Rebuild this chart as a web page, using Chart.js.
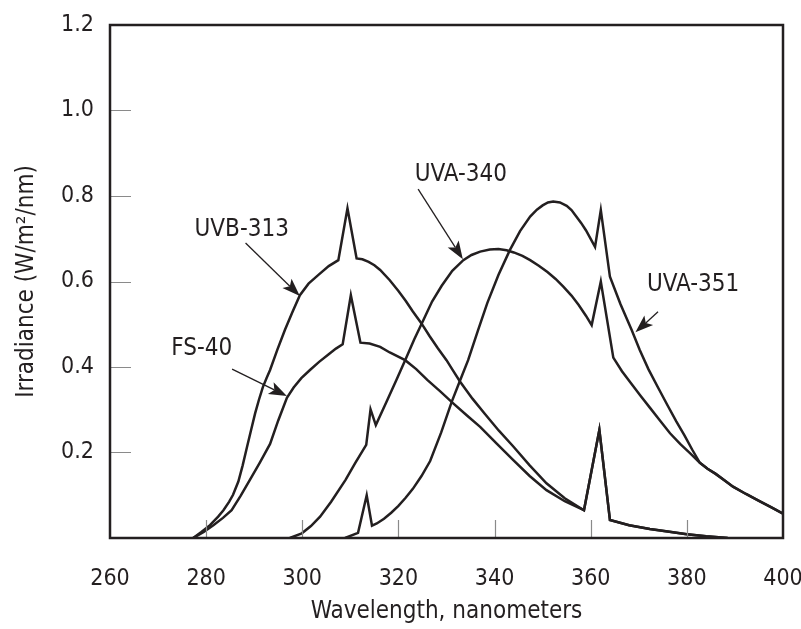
<!DOCTYPE html>
<html>
<head>
<meta charset="utf-8">
<script src="https://cdn.jsdelivr.net/npm/chart.js@4.4.1/dist/chart.umd.min.js"></script>
<style>
  html, body { margin: 0; padding: 0; background: #fff; }
  #wrap { width: 801px; height: 629px; position: relative; }
</style>
</head>
<body>
<div id="wrap"><canvas id="lampSpectra"></canvas></div>
<script>
// spectra: wavelength (nm) and irradiance (W/m2/nm)
const uvb313Nm  = [277.3, 279, 280.8, 282.5, 283.6, 284.8, 285.6, 286.7, 287.6, 288.5, 289.4, 290.2, 291, 291.8, 292.6, 293.3, 294.8, 296.4, 298, 299.5, 301.3, 303.3, 305.5, 307.5, 309.4, 311.3, 312.5, 313.8, 315, 316.2, 318.2, 320, 321.5, 323, 324.8, 326.5, 328.2, 330.0, 331.4, 332.8, 335.4, 338, 340.9, 343.9, 347.3, 350.8, 354.6, 358.6, 361.8, 364.0, 368, 372.3, 376, 380, 384, 388.5];
const uvb313Val = [0, 0.014, 0.030, 0.05, 0.065, 0.085, 0.101, 0.132, 0.17, 0.213, 0.255, 0.292, 0.324, 0.353, 0.375, 0.393, 0.44, 0.487, 0.530, 0.568, 0.595, 0.615, 0.636, 0.650, 0.771, 0.654, 0.652, 0.646, 0.638, 0.627, 0.603, 0.578, 0.555, 0.530, 0.502, 0.472, 0.444, 0.416, 0.391, 0.366, 0.326, 0.29, 0.251, 0.214, 0.170, 0.128, 0.093, 0.065, 0.253, 0.042, 0.03, 0.021, 0.015, 0.009, 0.004, 0];

const fs40Nm  = [277.3, 279.5, 281.5, 283.5, 285.3, 287.2, 289.1, 291.2, 293.3, 295, 296.8, 298.2, 299.8, 301.6, 303.5, 305.5, 307, 308.4, 310.1, 312.1, 314, 316.2, 318.2, 321.4, 323.7, 326, 328.7, 331.4, 334.2, 337.0, 340.5, 343.9, 347.3, 350.8, 354.6, 358.6, 361.8, 364.0, 368, 372.3, 376, 380, 384, 388.5];
const fs40Val = [0, 0.014, 0.030, 0.047, 0.065, 0.099, 0.136, 0.177, 0.22, 0.275, 0.328, 0.352, 0.374, 0.393, 0.412, 0.430, 0.443, 0.453, 0.568, 0.457, 0.455, 0.447, 0.434, 0.416, 0.395, 0.37, 0.343, 0.315, 0.287, 0.26, 0.22, 0.182, 0.145, 0.112, 0.086, 0.065, 0.253, 0.042, 0.03, 0.021, 0.015, 0.009, 0.004, 0];

const uva340Nm  = [297.4, 299.9, 301.8, 303.7, 306, 309, 311, 313.3, 314.2, 315.3, 317.5, 319.6, 321.4, 323.3, 325.2, 327, 329, 331.2, 333.5, 335.2, 337, 339, 340.8, 342.5, 344, 345.8, 347.4, 349.2, 351, 352.7, 354.3, 356, 357.5, 359, 360.2, 362.1, 364.7, 366.5, 368.5, 370.4, 372.3, 374.4, 376.5, 378.6, 380.7, 382.7, 384.3, 386, 387.8, 389.6, 392.3, 395, 397.5, 400];
const uva340Val = [0, 0.011, 0.028, 0.05, 0.085, 0.136, 0.175, 0.218, 0.301, 0.264, 0.318, 0.37, 0.416, 0.465, 0.51, 0.553, 0.59, 0.625, 0.65, 0.662, 0.670, 0.675, 0.676, 0.673, 0.668, 0.66, 0.650, 0.637, 0.622, 0.606, 0.588, 0.567, 0.545, 0.52, 0.498, 0.600, 0.422, 0.39, 0.36, 0.332, 0.305, 0.275, 0.245, 0.22, 0.198, 0.176, 0.162, 0.150, 0.135, 0.12, 0.103, 0.087, 0.072, 0.057];

const uva351Nm  = [308.9, 311.6, 313.4, 314.5, 315.5, 317, 318.5, 320, 321.5, 323, 324.8, 326.6, 328.9, 331.1, 332.8, 334.5, 336.5, 338.5, 340.8, 343.2, 345.3, 347.4, 348.8, 350, 351.1, 352.2, 353.6, 355, 356, 357, 358, 359, 360.9, 362.1, 364.0, 366.2, 368.5, 370.2, 372, 374, 376, 377.8, 379.5, 381.1, 382.7, 384.3, 386, 387.8, 389.6, 392.3, 395, 397.5, 400];
const uva351Val = [0, 0.012, 0.100, 0.029, 0.034, 0.045, 0.059, 0.075, 0.094, 0.115, 0.145, 0.18, 0.247, 0.319, 0.368, 0.416, 0.484, 0.55, 0.615, 0.674, 0.718, 0.752, 0.768, 0.778, 0.785, 0.787, 0.785, 0.777, 0.767, 0.752, 0.737, 0.72, 0.681, 0.767, 0.611, 0.547, 0.487, 0.44, 0.395, 0.352, 0.31, 0.273, 0.24, 0.207, 0.176, 0.162, 0.150, 0.135, 0.12, 0.103, 0.087, 0.072, 0.057];

const lampNames = ['UVB-313', 'FS-40', 'UVA-340', 'UVA-351'];
const xTicks = [260, 280, 300, 320, 340, 360, 380, 400];
const yTicks = [0.2, 0.4, 0.6, 0.8, 1.0, 1.2];

const ink = '#231f20';
const fontFamily = '"Liberation Sans Narrow", "DejaVu Sans Condensed", "Liberation Sans", sans-serif';

function pairs(nm, val) {
  return nm.map((x, i) => ({ x: x, y: val[i] }));
}

const series = [
  pairs(uvb313Nm, uvb313Val),
  pairs(fs40Nm, fs40Val),
  pairs(uva340Nm, uva340Val),
  pairs(uva351Nm, uva351Val)
];

// where each name sits and where its arrow points, in data units
const callouts = [
  { text: lampNames[0], at: [287.4, 0.720], from: [288.2, 0.690], to: [299.5, 0.566] },
  { text: lampNames[1], at: [279.1, 0.442], from: [285.4, 0.395], to: [296.8, 0.332] },
  { text: lampNames[2], at: [333.0, 0.849], from: [324.1, 0.816], to: [333.4, 0.652] },
  { text: lampNames[3], at: [381.3, 0.592], from: [374.0, 0.529], to: [369.3, 0.481] }
];

// frame round the plot plus the short inner tick marks
const framePlugin = {
  id: 'frame',
  afterDatasetsDraw(chart) {
    const { ctx, chartArea: a, scales } = chart;
    ctx.save();
    ctx.strokeStyle = '#8a8a8a';
    ctx.lineWidth = 1.2;
    ctx.beginPath();
    xTicks.slice(1, -1).forEach(v => {
      const px = Math.round(scales.x.getPixelForValue(v)) + 0.5;
      ctx.moveTo(px, a.bottom);
      ctx.lineTo(px, a.bottom - 18);
    });
    yTicks.slice(0, -1).forEach(v => {
      const py = Math.round(scales.y.getPixelForValue(v)) + 0.5;
      ctx.moveTo(a.left, py);
      ctx.lineTo(a.left + 21, py);
    });
    ctx.stroke();
    ctx.strokeStyle = ink;
    ctx.lineWidth = 2.5;
    ctx.strokeRect(a.left, a.top, a.right - a.left, a.bottom - a.top);
    ctx.restore();
  }
};

// lamp names with their arrows
const calloutPlugin = {
  id: 'callouts',
  afterDatasetsDraw(chart) {
    const { ctx, scales } = chart;
    const px = p => [scales.x.getPixelForValue(p[0]), scales.y.getPixelForValue(p[1])];
    ctx.save();
    ctx.fillStyle = ink;
    ctx.strokeStyle = ink;
    ctx.font = '24px ' + fontFamily;
    ctx.textAlign = 'center';
    ctx.textBaseline = 'middle';
    callouts.forEach(c => {
      const t = px(c.at), f = px(c.from), e = px(c.to);
      ctx.fillText(c.text, t[0], t[1]);
      const ang = Math.atan2(e[1] - f[1], e[0] - f[0]);
      const headLen = 18, headHalf = 6.5;
      const bx = e[0] - headLen * Math.cos(ang), by = e[1] - headLen * Math.sin(ang);
      ctx.lineWidth = 1.3;
      ctx.beginPath();
      ctx.moveTo(f[0], f[1]);
      ctx.lineTo(bx + 4 * Math.cos(ang), by + 4 * Math.sin(ang));
      ctx.stroke();
      ctx.beginPath();
      ctx.moveTo(e[0], e[1]);
      ctx.lineTo(bx + headHalf * Math.sin(ang), by - headHalf * Math.cos(ang));
      ctx.lineTo(bx + 4 * Math.cos(ang), by + 4 * Math.sin(ang));
      ctx.lineTo(bx - headHalf * Math.sin(ang), by + headHalf * Math.cos(ang));
      ctx.closePath();
      ctx.fill();
    });
    ctx.restore();
  }
};

new Chart(document.getElementById('lampSpectra'), {
  type: 'line',
  data: {
    datasets: series.map((pts, i) => ({
      label: lampNames[i],
      data: pts,
      borderColor: ink,
      borderWidth: 2.5,
      borderJoinStyle: 'miter',
      pointRadius: 0,
      tension: 0,
      fill: false
    }))
  },
  options: {
    responsive: true,
    maintainAspectRatio: false,
    animation: false,
    layout: { padding: { top: 25, right: 18, left: 0, bottom: 0 } },
    plugins: {
      legend: { display: false },
      tooltip: { enabled: false }
    },
    scales: {
      x: {
        type: 'linear',
        min: 260,
        max: 400,
        afterFit: s => { s.height = 91; s.paddingLeft = 0; s.paddingRight = 0; },
        afterBuildTicks: s => { s.ticks = xTicks.map(v => ({ value: v })); },
        grid: { display: false, drawTicks: false },
        border: { display: false },
        ticks: {
          padding: 27,
          color: ink,
          font: { family: fontFamily, size: 23 },
          maxRotation: 0
        },
        title: {
          display: true,
          text: 'Wavelength, nanometers',
          color: ink,
          font: { family: fontFamily, size: 24 },
          padding: { top: 0, bottom: 3 }
        }
      },
      y: {
        min: 0,
        max: 1.2,
        afterFit: s => { s.width = 110; s.paddingTop = 0; s.paddingBottom = 0; },
        afterBuildTicks: s => { s.ticks = yTicks.map(v => ({ value: v })); },
        grid: { display: false, drawTicks: false },
        border: { display: false },
        ticks: {
          padding: 16,
          color: ink,
          font: { family: fontFamily, size: 23 },
          callback: v => Number(v).toFixed(1)
        },
        title: {
          display: true,
          text: 'Irradiance (W/m\u00b2/nm)',
          color: ink,
          font: { family: fontFamily, size: 24 },
          padding: { top: 12, bottom: 0 }
        }
      }
    }
  },
  plugins: [framePlugin, calloutPlugin]
});
</script>
</body>
</html>
